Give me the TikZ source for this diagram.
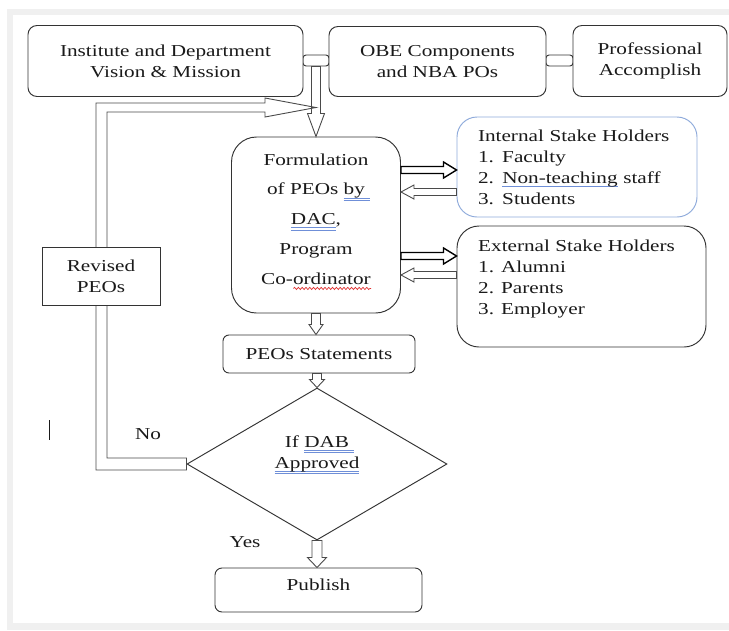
\documentclass[tikz,border=0pt]{standalone}
\usepackage{fontspec}
\setmainfont[FakeStretch=1.27]{Liberation Serif}
\usetikzlibrary{calc,shapes.geometric,decorations.pathmorphing}

\definecolor{framegray}{HTML}{F0F0F0}
\definecolor{edge}{HTML}{333333}
\definecolor{pipegray}{HTML}{4A4A4A}
\definecolor{spellblue}{HTML}{6F8FD8}
\definecolor{spellred}{HTML}{E03030}
\definecolor{boxblue}{HTML}{8EAADB}
\definecolor{ink}{HTML}{1A1A1A}

% proofing marks under words
\newlength\spellw
\newcommand\dblul[1]{\settowidth\spellw{#1}%
  \rlap{\smash{\color{spellblue}\rule[-3.2pt]{\spellw}{0.6pt}}}%
  \rlap{\smash{\color{spellblue}\rule[-5.4pt]{\spellw}{0.6pt}}}#1}
\newcommand\sglul[1]{\settowidth\spellw{#1}%
  \rlap{\smash{\color{spellblue}\rule[-3.6pt]{\spellw}{0.9pt}}}#1}
\newcommand\waveul[1]{\settowidth\spellw{#1}%
  \rlap{\smash{\tikz[baseline=0pt]\draw[spellred,line width=0.7pt,decorate,
    decoration={snake,amplitude=1.1pt,segment length=3.8pt}] (0pt,-4.2pt) -- (\spellw,-4.2pt);}}#1}

% hollow block arrow from #2 (tail) to #3 (tip):
% #4 shaft half-width, #5 head half-width, #6 head length
\newcommand\blockarrow[6][hollow]{%
  \path[#1] let \p1=(#2), \p2=(#3),
    \n1={veclen(\x2-\x1,\y2-\y1)},
    \n2={(\x2-\x1)/\n1}, \n3={(\y2-\y1)/\n1}
  in (\x1-#4*\n3, \y1+#4*\n2)
  -- (\x2-#6*\n2-#4*\n3, \y2-#6*\n3+#4*\n2)
  -- (\x2-#6*\n2-#5*\n3, \y2-#6*\n3+#5*\n2)
  -- (\x2,\y2)
  -- (\x2-#6*\n2+#5*\n3, \y2-#6*\n3-#5*\n2)
  -- (\x2-#6*\n2+#4*\n3, \y2-#6*\n3-#4*\n2)
  -- (\x1+#4*\n3, \y1-#4*\n2) -- cycle;}

\tikzset{
  box/.style={draw=edge, line width=0.95pt, rounded corners=9pt, fill=white,
    align=center, inner sep=0pt, text=ink},
  linkbox/.style={draw=edge, line width=0.95pt, rounded corners=3pt, fill=white, inner sep=0pt},
  hollow/.style={draw=pipegray, line width=0.9pt, fill=white},
  outline/.style={draw=pipegray, line width=0.9pt},
  boldarrow/.style={draw=black, line width=1.4pt, fill=white},
  lbl/.style={text=ink, inner sep=0pt},
}

\begin{document}
\begin{tikzpicture}[x=1pt, y=-1pt, font=\fontsize{16.7}{21}\selectfont]
\useasboundingbox (0,0) rectangle (729,630);

% page frame
\fill[white] (0,0) rectangle (729,630);
\fill[framegray] (7,9) rectangle (729,630);
\fill[white] (13,15) rectangle (729,623);

% top row
\node[linkbox, minimum width=26pt, minimum height=11pt] (link1) at (316,60.5) {};
\node[linkbox, minimum width=27pt, minimum height=11pt] (link2) at (559.5,60.5) {};
\node[box, minimum width=275pt, minimum height=71pt] (vision) at (165.5,61)
  {Institute and Department\\Vision \& Mission};
\node[box, minimum width=217pt, minimum height=70pt] (obe) at (437.5,61.5)
  {OBE Components\\and NBA POs};
\node[box, minimum width=154pt, minimum height=71pt] (prof) at (650,61)
  {Professional\\Accomplish};

% diamond (needed for the feedback pipe)
\node[draw=edge, line width=0.95pt, diamond, fill=white, minimum width=260pt,
  minimum height=152pt, inner sep=0pt] (dia) at (317,464) {};

% feedback pipe from the decision back to the formulation
\coordinate (fbtip) at (link1.south |- 0,107.5);
\path[hollow] let \p1=(dia.west), \p2=(fbtip) in
  (\x1,\y1+6pt) -- (107pt,\y1+6pt) -- (107pt,\y2-4.5pt)
  -- (\x2-51pt,\y2-4.5pt) -- (\x2-51pt,\y2-9.5pt) -- (\x2,\y2)
  -- (\x2-51pt,\y2+9.5pt) -- (\x2-51pt,\y2+4.5pt) -- (96pt,\y2+4.5pt)
  -- (96pt,\y1-6pt) -- (\x1,\y1-6pt) -- cycle;

\node[box, rounded corners=0pt, minimum width=118pt, minimum height=58pt] (rev) at (101,276)
  {Revised\\PEOs};

% formulation block
\node[box, rounded corners=25pt, minimum width=169pt, minimum height=176pt] (form) at (316,225) {};
\node[lbl, align=center, font=\fontsize{16.7}{29.75}\selectfont] (formtxt) at (316,219)
  {Formulation\\of PEOs \dblul{by\ }\\\dblul{DAC},\\Program\\Co-\waveul{ordinator}};

\blockarrow[outline]{link1.south}{form.north}{4.5pt}{8.5pt}{23pt}

% stake holders
\node[box, draw=boxblue, rounded corners=20pt, text width=198pt, align=left,
  inner xsep=21pt, minimum height=100pt] (int) at (577,167)
  {Internal Stake Holders\\1. Faculty\\2. \sglul{Non-teaching} staff\\3. Students};
\node[box, rounded corners=22pt, minimum width=249pt, minimum height=121pt] (ext) at (581.5,286.5) {};
\node[lbl, align=left, anchor=north west] (exttxt) at (478,239.6)
  {External Stake Holders\\1. Alumni\\2. Parents\\3. Employer};

\blockarrow[boldarrow]{form.east |- 0,170}{int.west |- 0,170}{3.5pt}{8pt}{13pt}
\blockarrow{int.west |- 0,192}{form.east |- 0,192}{3.5pt}{7pt}{13pt}
\blockarrow[boldarrow]{form.east |- 0,256}{ext.west |- 0,256}{3.5pt}{8pt}{13pt}
\blockarrow{ext.west |- 0,275}{form.east |- 0,275}{3.5pt}{7pt}{13pt}

% statements, decision, publish
\node[box, rounded corners=6pt, minimum width=192pt, minimum height=38pt] (peos) at (319,354)
  {PEOs Statements};
\node[lbl, align=center] (diatxt) at (317,454) {If \dblul{DAB\ }\\\dblul{Approved}};
\node[box, rounded corners=7pt, minimum width=207pt, minimum height=44pt, text depth=10pt]
  (pub) at (318.5,590) {Publish};

\blockarrow{form.south}{form.south |- peos.north}{4.5pt}{7pt}{10pt}
\blockarrow{dia.north |- peos.south}{dia.north}{4.5pt}{7.5pt}{8pt}
\blockarrow{dia.south}{dia.south |- pub.north}{5pt}{9.5pt}{10pt}

\node[lbl] (no) at (148,434) {No};
\node[lbl] (yes) at (245,542.5) {Yes};

% text cursor
\draw[ink, line width=0.8pt] (49,420) -- (49,440);
\end{tikzpicture}
\end{document}
